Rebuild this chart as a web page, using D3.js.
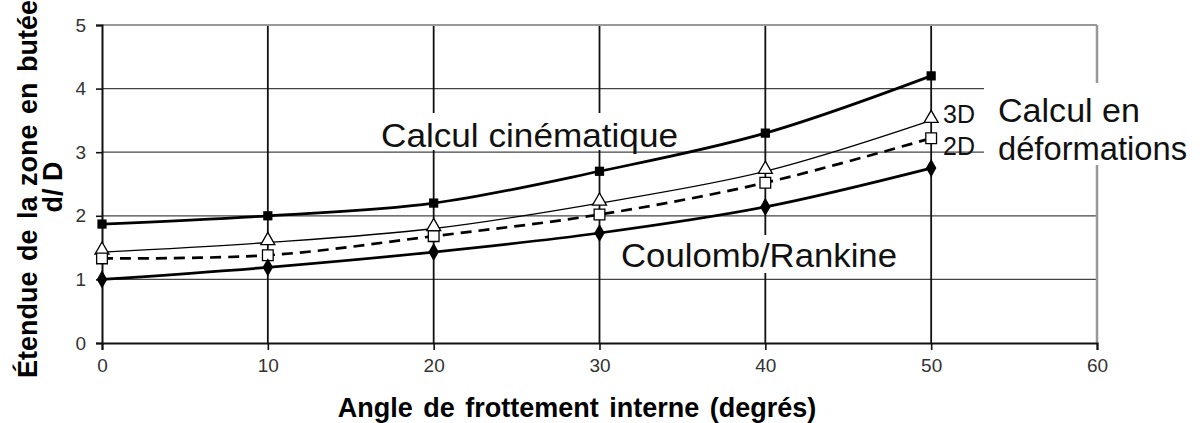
<!DOCTYPE html>
<html>
<head>
<meta charset="utf-8">
<script src="https://cdn.jsdelivr.net/npm/d3@7"></script>
<style>
  html, body { margin: 0; padding: 0; background: #fff; }
  svg { display: block; font-family: "Liberation Sans", Arial, sans-serif; }
</style>
</head>
<body>
<svg id="chart" width="1200" height="423"></svg>
<script>
// angle de frottement interne (degrés)
const angles = [0, 10, 20, 30, 40, 50];

// d/D
const cinematique = [1.87, 2.0, 2.2, 2.7, 3.3, 4.2];
const deformations3D = [1.43, 1.58, 1.8, 2.2, 2.7, 3.5];
const deformations2D = [1.33, 1.38, 1.68, 2.02, 2.52, 3.22];
const coulombRankine = [1.0, 1.19, 1.43, 1.73, 2.14, 2.75];

const xTicks = [0, 10, 20, 30, 40, 50, 60];
const yTicks = [0, 1, 2, 3, 4, 5];

const svg = d3.select("#chart");

const x = d3.scaleLinear().domain([0, 60]).range([102, 1097]);
const y = d3.scaleLinear().domain([0, 5]).range([343, 25]);

// horizontal gridlines
svg.append("g")
  .selectAll("line")
  .data(yTicks.filter(d => d > 0 && d < 5))
  .join("line")
  .attr("x1", x(0)).attr("x2", x(60))
  .attr("y1", d => y(d)).attr("y2", d => y(d))
  .attr("stroke", "#444").attr("stroke-width", 1.3);

// vertical gridlines
svg.append("g")
  .selectAll("line")
  .data(xTicks.filter(d => d > 0 && d < 60))
  .join("line")
  .attr("x1", d => x(d)).attr("x2", d => x(d))
  .attr("y1", y(5)).attr("y2", y(0))
  .attr("stroke", "#111").attr("stroke-width", 1.8);

// frame: top and right in grey
svg.append("line")
  .attr("x1", x(0)).attr("x2", x(60)).attr("y1", y(5)).attr("y2", y(5))
  .attr("stroke", "#999").attr("stroke-width", 2.2);
svg.append("line")
  .attr("x1", x(60)).attr("x2", x(60)).attr("y1", y(5)).attr("y2", y(0))
  .attr("stroke", "#999").attr("stroke-width", 2.5);

// axes
const xAxis = svg.append("g")
  .attr("transform", `translate(0,${y(0)})`)
  .call(d3.axisBottom(x).tickValues(xTicks).tickFormat(d3.format("d")).tickSize(7).tickPadding(9));
const yAxis = svg.append("g")
  .attr("transform", `translate(${x(0)},0)`)
  .call(d3.axisLeft(y).tickValues(yTicks).tickFormat(d3.format("d")).tickSize(6).tickPadding(10));

[xAxis, yAxis].forEach(ax => {
  ax.attr("font-size", null).attr("font-family", null);
  ax.select(".domain").attr("stroke", "#111").attr("stroke-width", 2);
  ax.selectAll(".tick line").attr("stroke", "#111").attr("stroke-width", 1.6);
  ax.selectAll(".tick text")
    .style("font-family", "'Liberation Sans', Arial, sans-serif")
    .style("font-size", "19px")
    .attr("fill", "#333");
});

// series
const series = [
  { name: "cinematique", values: cinematique, width: 2.7, dash: null, marker: "fsquare" },
  { name: "3D", values: deformations3D, width: 1.3, dash: null, marker: "triangle" },
  { name: "2D", values: deformations2D, width: 2.7, dash: "11,7", marker: "osquare" },
  { name: "coulomb", values: coulombRankine, width: 2.7, dash: null, marker: "diamond" }
];

const line = d3.line()
  .x(d => x(d[0]))
  .y(d => y(d[1]))
  .curve(d3.curveCatmullRom.alpha(0.5));

series.forEach(s => {
  const pts = angles.map((a, i) => [a, s.values[i]]);
  svg.append("path")
    .datum(pts)
    .attr("d", line)
    .attr("fill", "none")
    .attr("stroke", "#000")
    .attr("stroke-width", s.width)
    .attr("stroke-dasharray", s.dash);
});

const symbols = {
  fsquare: { type: d3.symbolSquare, size: 85, fill: "#000", stroke: "none" },
  osquare: { type: d3.symbolSquare, size: 115, fill: "#fff", stroke: "#000" },
  triangle: { type: d3.symbolTriangle, size: 85, fill: "#fff", stroke: "#000" },
  diamond: { type: d3.symbolDiamond, size: 95, fill: "#000", stroke: "none" }
};

series.forEach(s => {
  const m = symbols[s.marker];
  svg.append("g")
    .selectAll("path")
    .data(angles.map((a, i) => [a, s.values[i]]))
    .join("path")
    .attr("transform", d => `translate(${x(d[0])},${y(d[1]) + (s.marker === "triangle" ? -2 : 0)})`)
    .attr("d", d3.symbol(m.type, m.size))
    .attr("fill", m.fill)
    .attr("stroke", m.stroke)
    .attr("stroke-width", 1.3);
});

// annotations sitting on white boxes (they hide the gridlines behind them)
function boxedText(lines, xPos, baseline, lineGap, widths, box) {
  const g = svg.append("g");
  g.append("rect")
    .attr("x", box[0]).attr("y", box[1])
    .attr("width", box[2] - box[0]).attr("height", box[3] - box[1])
    .attr("fill", "#fff");
  lines.forEach((l, i) => {
    g.append("text")
      .attr("x", xPos).attr("y", baseline + i * lineGap)
      .attr("font-size", 33)
      .attr("fill", "#111")
      .attr("textLength", widths[i])
      .attr("lengthAdjust", "spacingAndGlyphs")
      .text(l);
  });
}

boxedText(["Calcul cinématique"], 381, 147, 0, [297], [376, 113, 684, 150]);
boxedText(["Coulomb/Rankine"], 621, 267, 0, [276], [615, 235, 902, 273]);
boxedText(["Calcul en", "déformations"], 998, 122, 38, [142, 189], [984, 83, 1200, 165]);

svg.append("text").attr("x", 943).attr("y", 123).attr("font-size", 25).attr("fill", "#111").text("3D");
svg.append("text").attr("x", 943).attr("y", 155).attr("font-size", 25).attr("fill", "#111").text("2D");

// axis titles
svg.append("text")
  .attr("x", 577).attr("y", 417)
  .attr("text-anchor", "middle")
  .attr("font-size", 27).attr("font-weight", "bold")
  .attr("word-spacing", 3)
  .attr("fill", "#000")
  .text("Angle de frottement interne (degrés)");

const yTitle = svg.append("g");
yTitle.append("text")
  .attr("transform", "translate(37,189) rotate(-90)")
  .attr("text-anchor", "middle")
  .attr("font-size", 27).attr("font-weight", "bold")
  .attr("word-spacing", 3)
  .attr("fill", "#000")
  .text("Étendue de la zone en butée");
yTitle.append("text")
  .attr("transform", "translate(62,187) rotate(-90)")
  .attr("text-anchor", "middle")
  .attr("font-size", 27).attr("font-weight", "bold")
  .attr("fill", "#000")
  .text("d/ D");
</script>
</body>
</html>
